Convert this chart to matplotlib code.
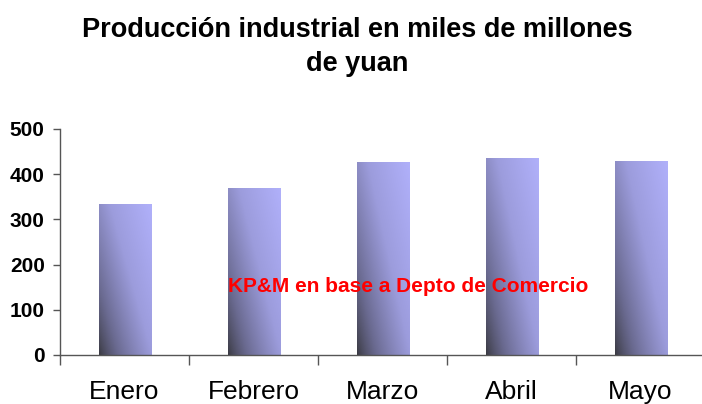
import numpy as np
import matplotlib
matplotlib.use("Agg")
import matplotlib.pyplot as plt
from matplotlib.patches import Rectangle
from matplotlib.colors import LinearSegmentedColormap

categories = ["Enero", "Febrero", "Marzo", "Abril", "Mayo"]
values = [333, 370, 426, 436, 430]
title = "Producción industrial en miles de millones\nde yuan"
yticks = [0, 100, 200, 300, 400, 500]
note = "KP&M en base a Depto de Comercio"

plt.rcParams['font.family'] = ['Liberation Sans', 'DejaVu Sans']

W, H = 702, 404
fig = plt.figure(figsize=(W / 100, H / 100), dpi=100)
ax_left, ax_right, ax_bottom, ax_top = 60, 705, 355, 129
ax = fig.add_axes([ax_left / W, 1 - ax_bottom / H, (ax_right - ax_left) / W, (ax_bottom - ax_top) / H])

n = len(categories)
ax.set_xlim(-0.5, n - 0.5)
ax.set_ylim(0, 500)

cmap = LinearSegmentedColormap.from_list("g", [(0.0, "#38383f"), (0.3, "#6a6a90"), (0.65, "#9c9cdc"), (1.0, "#b0b0fa")])
bw = 0.41
ny, nx = 200, 60
uu, vv = np.meshgrid(np.linspace(0, 1, nx), np.linspace(0, 1, ny))
for i, v in enumerate(values):
    x0 = i - bw / 2 + 0.01
    t = np.clip((uu * 0.55 + vv * 0.45) ** 0.75, 0, 1)
    im = ax.imshow(t, cmap=cmap, vmin=0, vmax=1, origin="lower", aspect="auto",
                   extent=(x0, x0 + bw, 0, v), interpolation="bilinear", zorder=2)
    rect = Rectangle((x0, 0), bw, v, transform=ax.transData, facecolor="none", edgecolor="none")
    ax.add_patch(rect)
    im.set_clip_path(rect)

ax.set_aspect("auto")
ax.set_xlim(-0.5, n - 0.5)
ax.set_ylim(0, 500)

for s in ["top", "right"]:
    ax.spines[s].set_visible(False)
for s in ["left", "bottom"]:
    ax.spines[s].set_color("#555555")
    ax.spines[s].set_linewidth(1.0)

ax.set_yticks(yticks)
ax.set_yticklabels([str(y) for y in yticks], fontsize=15, fontweight="bold")
ax.tick_params(axis="y", length=5, width=1, color="#555555", pad=6)

ax.set_xticks(np.arange(-0.5, n, 1.0))
ax.set_xticklabels([])
ax.tick_params(axis="x", length=7, width=1, color="#555555")
for i, c in enumerate(categories):
    ax.text(i, -82, c, ha="center", va="center", fontsize=19, transform=ax.transData, clip_on=False)

fig.text(357 / W, 1 - 47 / H, title, ha="center", va="center", fontsize=19.5,
         fontweight="bold", linespacing=1.4)
fig.text(408 / W, 1 - 286 / H, note, ha="center", va="center", fontsize=15,
         fontweight="bold", color="#ff0000", zorder=5)

fig.savefig("out.png", dpi=100)
